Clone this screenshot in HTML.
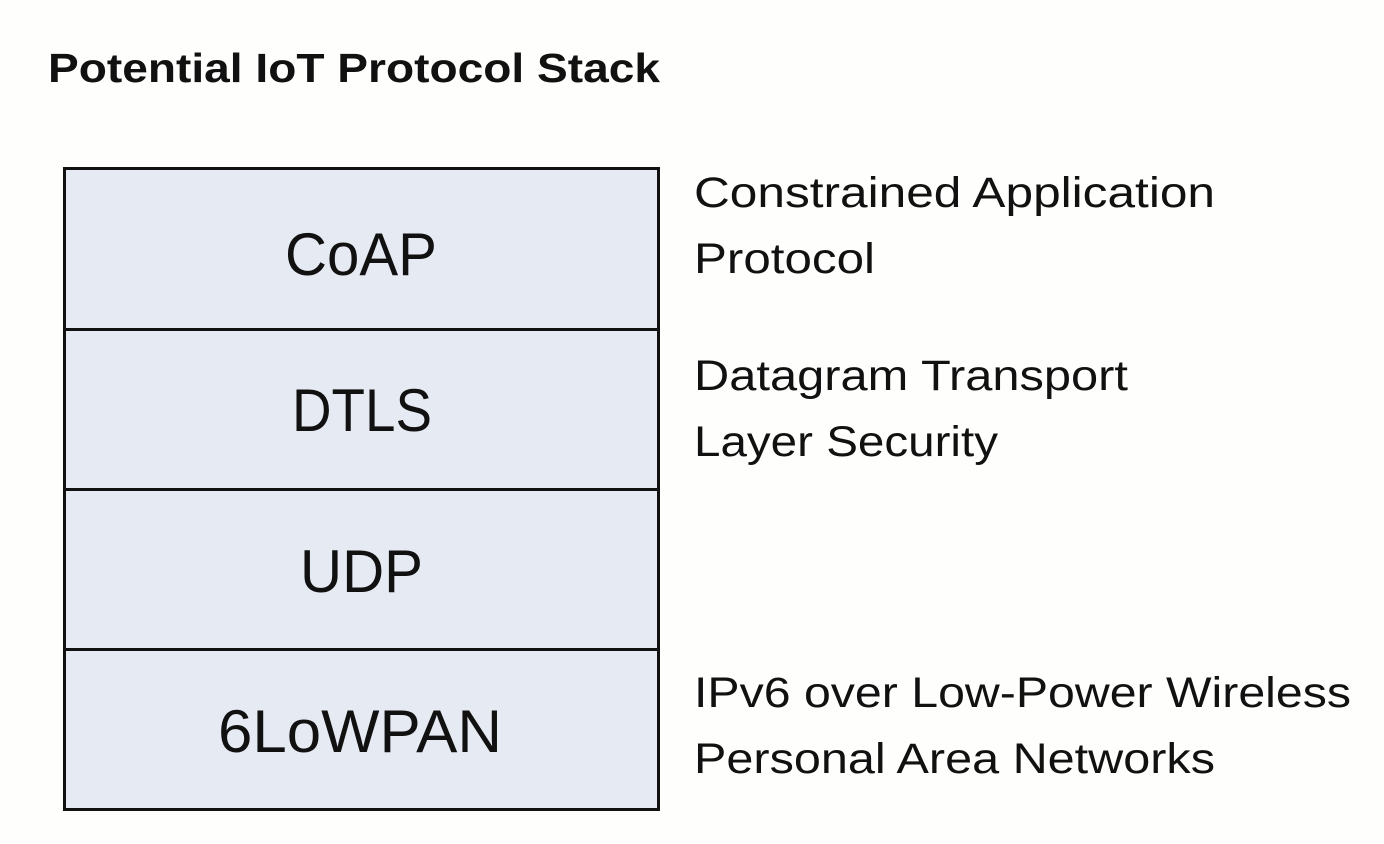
<!DOCTYPE html>
<html><head><meta charset="utf-8"><style>
html,body{margin:0;padding:0;background:#fff;}
svg{display:block;}
text{font-family:"Liberation Sans",sans-serif;fill:#111;}
</style></head><body>
<svg width="1384" height="844" viewBox="0 0 1384 844">
<rect width="1384" height="844" fill="#fefefc"/>
<text x="48" y="82" font-size="41" font-weight="bold" textLength="612" lengthAdjust="spacingAndGlyphs">Potential IoT Protocol Stack</text>
<rect x="64.5" y="168.5" width="594" height="641" fill="#e6ebf3" stroke="#111" stroke-width="3"/>
<line x1="64" y1="329.5" x2="659" y2="329.5" stroke="#111" stroke-width="3"/>
<line x1="64" y1="489.5" x2="659" y2="489.5" stroke="#111" stroke-width="3"/>
<line x1="64" y1="649.5" x2="659" y2="649.5" stroke="#111" stroke-width="3"/>
<g font-size="60">
<text x="285" y="275" textLength="152" lengthAdjust="spacingAndGlyphs">CoAP</text>
<text x="292" y="431" textLength="140" lengthAdjust="spacingAndGlyphs">DTLS</text>
<text x="300" y="592" textLength="123" lengthAdjust="spacingAndGlyphs">UDP</text>
<text x="218" y="752" textLength="284" lengthAdjust="spacingAndGlyphs">6LoWPAN</text>
</g>
<g font-size="43">
<text x="694" y="207" textLength="521" lengthAdjust="spacingAndGlyphs">Constrained Application</text>
<text x="694" y="273" textLength="181" lengthAdjust="spacingAndGlyphs">Protocol</text>
<text x="694" y="390" textLength="434" lengthAdjust="spacingAndGlyphs">Datagram Transport</text>
<text x="694" y="456" textLength="304" lengthAdjust="spacingAndGlyphs">Layer Security</text>
<text x="694" y="707" textLength="657" lengthAdjust="spacingAndGlyphs">IPv6 over Low-Power Wireless</text>
<text x="694" y="773" textLength="521" lengthAdjust="spacingAndGlyphs">Personal Area Networks</text>
</g>
</svg>
</body></html>
